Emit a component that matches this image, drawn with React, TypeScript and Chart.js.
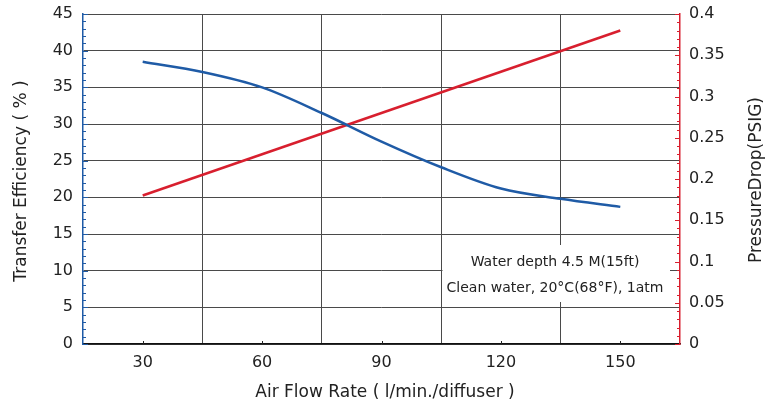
import React, { useEffect, useRef } from "react";
import { Chart, registerables } from "chart.js";

Chart.register(...registerables);

const airFlow = [30, 45, 60, 75, 90, 105, 120, 135, 150];
const efficiency = [38.5, 37.1, 35.0, 31.5, 27.6, 24.1, 21.2, 19.8, 18.7];
const pressureFlow = [30, 150];
const pressureDrop = [0.18, 0.38];
const xTickLabels = [30, 60, 90, 120, 150];
const noteLines = ["Water depth 4.5 M(15ft)", "Clean water, 20°C(68°F), 1atm"];
const xTitle = "Air Flow Rate ( l/min./diffuser )";
const yTitle = "Transfer Efficiency ( % )";
const y2Title = "PressureDrop(PSIG)";

const FONT = "'DejaVu Sans', sans-serif";
const BLUE = "#1f5ba6";
const RED = "#d81f2e";
const GRID = "#4a4a4a";

export default function App() {
  const ref = useRef<HTMLCanvasElement | null>(null);
  useEffect(() => {
    if (!ref.current) return;
    const decor = {
      id: "decor",
      beforeDatasetsDraw(chart: any) {
        const { ctx, chartArea: a, scales } = chart;
        const left = Math.round(scales.x.getPixelForValue(105)) + 1.5;
        ctx.save();
        ctx.fillStyle = "#ffffff";
        ctx.fillRect(left, a.bottom - 99, a.right - 10 - left, 57);
        ctx.restore();
      },
      afterDraw(chart: any) {
        const { ctx, chartArea: a, scales } = chart;
        const x = scales.x, y = scales.y, y2 = scales.y2;
        ctx.save();
        ctx.lineWidth = 1;
        ctx.strokeStyle = BLUE;
        for (let v = 0; v <= 45; v += 1) {
          const p = Math.round(y.getPixelForValue(v)) + 0.5;
          const len = v % 5 === 0 ? 5 : 3;
          ctx.beginPath();
          ctx.moveTo(a.left, p);
          ctx.lineTo(a.left + len, p);
          ctx.stroke();
        }
        ctx.strokeStyle = RED;
        for (let i = 0; i <= 40; i++) {
          const v = i / 100;
          const p = Math.round(y2.getPixelForValue(v)) + 0.5;
          const len = i % 5 === 0 ? 5 : 3;
          ctx.beginPath();
          ctx.moveTo(a.right, p);
          ctx.lineTo(a.right - len, p);
          ctx.stroke();
        }
        ctx.strokeStyle = "#222";
        for (const v of xTickLabels) {
          const p = Math.round(x.getPixelForValue(v)) + 0.5;
          ctx.beginPath();
          ctx.moveTo(p, a.bottom);
          ctx.lineTo(p, a.bottom - 3);
          ctx.stroke();
        }
        ctx.fillStyle = "#222";
        ctx.font = `14px ${FONT}`;
        ctx.textAlign = "center";
        ctx.textBaseline = "middle";
        const cx = a.right - 125;
        ctx.fillText(noteLines[0], cx, a.bottom - 82);
        ctx.fillText(noteLines[1], cx, a.bottom - 56);
        ctx.font = `17px ${FONT}`;
        ctx.save();
        ctx.translate(22, 181);
        ctx.rotate(-Math.PI / 2);
        ctx.fillText(yTitle, 0, 0);
        ctx.restore();
        ctx.save();
        ctx.translate(757, 180);
        ctx.rotate(-Math.PI / 2);
        ctx.fillText(y2Title, 0, 0);
        ctx.restore();
        ctx.fillText(xTitle, 385, 393);
        ctx.restore();
      },
    };

    const fitY = (w: number) => (s: any) => {
      s.width = w;
      s.paddingTop = 0;
      s.paddingBottom = 0;
    };

    const chart = new Chart(ref.current, {
      type: "line",
      data: {
        datasets: [
          {
            label: "Transfer Efficiency",
            data: airFlow.map((v, i) => ({ x: v, y: efficiency[i] })),
            borderColor: BLUE,
            borderWidth: 2.5,
            pointRadius: 0,
            cubicInterpolationMode: "monotone",
            yAxisID: "y",
          },
          {
            label: "Pressure Drop",
            data: pressureFlow.map((v, i) => ({ x: v, y: pressureDrop[i] })),
            borderColor: RED,
            borderWidth: 2.5,
            pointRadius: 0,
            yAxisID: "y2",
          },
        ],
      },
      options: {
        animation: false,
        responsive: false,
        maintainAspectRatio: false,
        layout: { padding: { top: 14, left: 0, right: 0, bottom: 0 } },
        plugins: { legend: { display: false }, tooltip: { enabled: false } },
        scales: {
          x: {
            type: "linear",
            min: 15,
            max: 165,
            afterBuildTicks: (s: any) => {
              s.ticks = [];
              for (let v = 15; v <= 165; v += 15) s.ticks.push({ value: v });
            },
            afterFit: (s: any) => {
              s.height = 61;
              s.paddingLeft = 0;
              s.paddingRight = 0;
            },
            grid: {
              color: (c: any) =>
                c.tick && c.tick.value % 30 === 15 && c.tick.value !== 15 && c.tick.value !== 165
                  ? GRID
                  : "rgba(0,0,0,0)",
              drawTicks: false,
            },
            border: { color: "#111", width: 1.5 },
            ticks: {
              padding: 9,
              color: "#222",
              font: { family: FONT, size: 16 },
              maxRotation: 0,
              autoSkip: false,
              callback: (v: any) => (xTickLabels.includes(Number(v)) ? String(v) : ""),
            },
          },
          y: {
            position: "left",
            min: 0,
            max: 45,
            ticks: {
              stepSize: 5,
              padding: 10,
              color: "#222",
              font: { family: FONT, size: 16 },
            },
            afterFit: fitY(83),
            grid: { color: GRID, drawTicks: false },
            border: { color: BLUE, width: 1.5 },
          },
          y2: {
            position: "right",
            min: 0,
            max: 0.4,
            ticks: {
              stepSize: 0.05,
              padding: 9,
              color: "#222",
              font: { family: FONT, size: 16 },
              callback: (v: any) => String(+Number(v).toFixed(2)),
            },
            afterFit: fitY(98),
            grid: { drawOnChartArea: false, drawTicks: false },
            border: { color: RED, width: 1.5 },
          },
        },
      },
      plugins: [decor],
    } as any);
    return () => chart.destroy();
  }, []);
  return (
    <div style={{ position: "absolute", left: 0, top: 0, width: 778, height: 405, background: "#fff" }}>
      <canvas ref={ref} width={778} height={405} style={{ width: 778, height: 405 }} />
    </div>
  );
}
